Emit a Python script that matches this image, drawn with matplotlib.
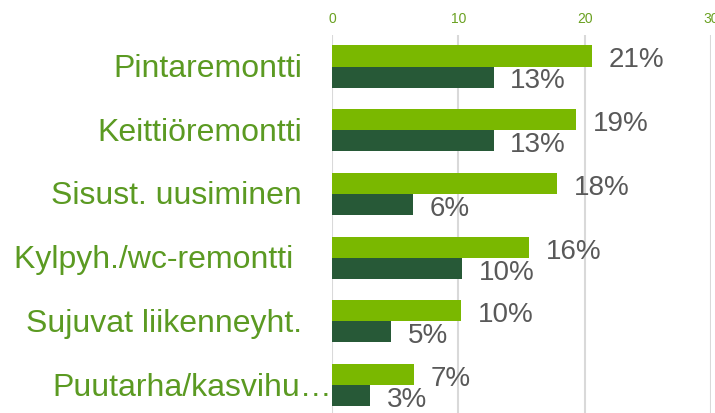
import numpy as np
import matplotlib.pyplot as plt

plt.rcParams['font.family'] = ['Liberation Sans', 'DejaVu Sans']

kategoriat = ['Pintaremontti', 'Keittiöremontti', 'Sisust. uusiminen',
              'Kylpyh./wc-remontti ', 'Sujuvat liikenneyht.', 'Puutarha/kasvihu…']
vaalea = [20.6, 19.3, 17.8, 15.6, 10.2, 6.5]
tumma = [12.8, 12.8, 6.4, 10.3, 4.7, 3.0]
vaalea_txt = ['21%', '19%', '18%', '16%', '10%', '7%']
tumma_txt = ['13%', '13%', '6%', '10%', '5%', '3%']
akseli = [0, 10, 20, 30]

vihrea = '#7ab800'
tummavihrea = '#275937'
tekstivihrea = '#5b9a22'
harmaa = '#595959'

fig = plt.figure(figsize=(7.15, 4.14), dpi=100)
ax = fig.add_axes([0.4643, -0.0097, 0.530, 0.9236])

y = np.arange(len(kategoriat))
h = 0.33

ax.barh(y - h / 2, vaalea, height=h, color=vihrea, zorder=3)
ax.barh(y + h / 2, tumma, height=h, color=tummavihrea, zorder=3)

# prosenttiluvut palkkien perään
for i in range(len(kategoriat)):
    ax.annotate(vaalea_txt[i], (vaalea[i], y[i] - h / 2), xytext=(12, -2.5),
                textcoords='offset points', va='center', ha='left',
                fontsize=20, color=harmaa)
    ax.annotate(tumma_txt[i], (tumma[i], y[i] + h / 2), xytext=(12, -2.5),
                textcoords='offset points', va='center', ha='left',
                fontsize=20, color=harmaa)

# kategorioiden nimet
for i, k in enumerate(kategoriat):
    siirto = -21.6 if i < len(kategoriat) - 1 else 0
    ax.annotate(k, (0, y[i]), xytext=(siirto, -1), textcoords='offset points',
                va='center', ha='right', fontsize=23, color=tekstivihrea)

ax.set_xlim(0, 30)
ax.set_ylim(len(kategoriat) - 0.5, -0.5)
ax.set_yticks([])
ax.set_xticks(akseli)
ax.xaxis.tick_top()
ax.tick_params(axis='x', length=0, pad=7, labelsize=10, labelcolor='#6aa121')
ax.grid(axis='x', color='#d9d9d9', linewidth=1.5, zorder=0)
for s in ax.spines.values():
    s.set_visible(False)

plt.savefig('out.png', dpi=100)
